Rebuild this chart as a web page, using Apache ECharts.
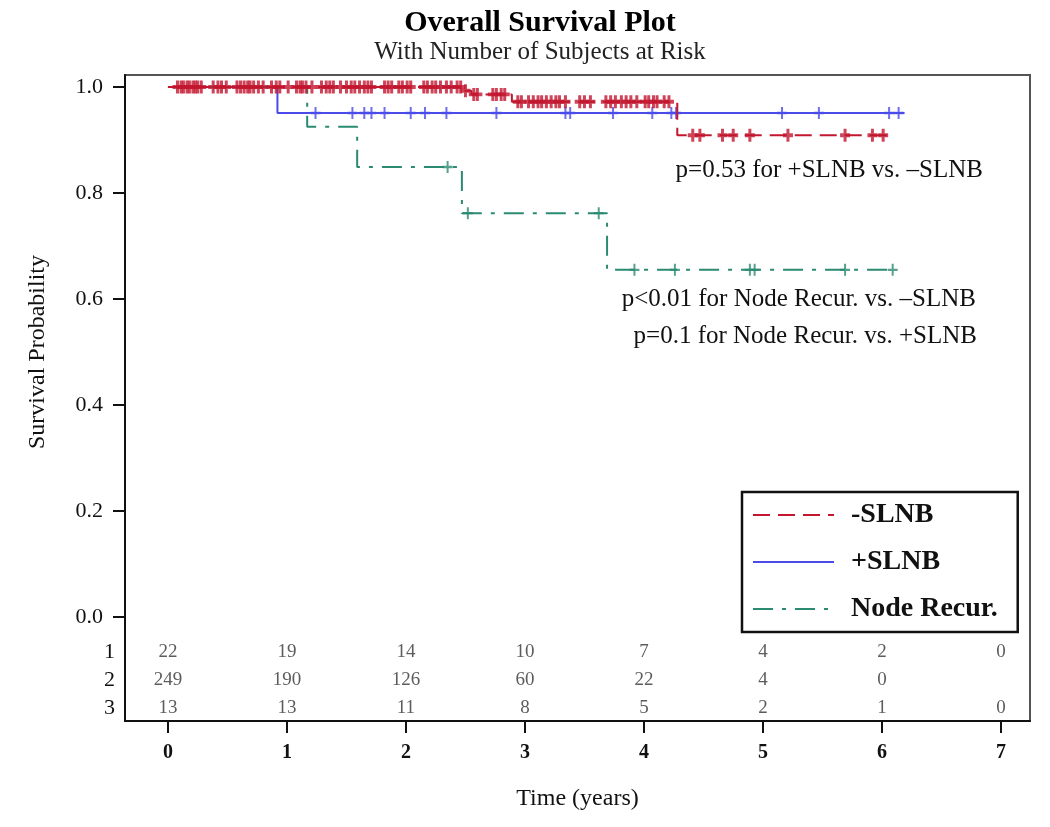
<!DOCTYPE html>
<html><head><meta charset="utf-8">
<script src="https://cdn.jsdelivr.net/npm/echarts@6/dist/echarts.min.js"></script>
<style>html,body{margin:0;padding:0;background:#fff}#c{width:1050px;height:827px}</style>
</head><body><div id="c"></div>
<script>
// ---- data ----
const years = [0, 1, 2, 3, 4, 5, 6, 7];
const yTicks = [0, 0.2, 0.4, 0.6, 0.8, 1.0];
const groupNames = ['-SLNB', '+SLNB', 'Node Recur.'];

// Kaplan-Meier step points (time in years, survival after event)
const negSLNB_t = [0, 2.47, 2.55, 2.89, 4.28, 6.04];
const negSLNB_s = [1.0, 0.993, 0.986, 0.972, 0.909, 0.909];
const posSLNB_t = [0, 0.92, 6.19];
const posSLNB_s = [1.0, 0.951, 0.951];
const nodeRec_t = [0, 1.17, 1.59, 2.47, 3.69, 6.09];
const nodeRec_s = [1.0, 0.925, 0.849, 0.762, 0.655, 0.655];

// censoring times
const negSLNB_cens = [0.08,0.11,0.13,0.16,0.18,0.21,0.23,0.25,0.28,0.38,0.42,0.45,0.49,0.58,0.61,0.64,0.67,0.69,0.72,0.76,0.80,0.87,0.91,0.94,1.01,1.08,1.11,1.13,1.16,1.21,1.29,1.33,1.36,1.39,1.45,1.50,1.54,1.57,1.61,1.65,1.68,1.71,1.82,1.85,1.88,1.94,1.97,2.01,2.04,2.15,2.18,2.22,2.25,2.29,2.34,2.38,2.43,2.46,
  2.50,2.57,2.60,2.73,2.76,2.80,2.83,
  2.94,2.97,3.03,3.07,3.11,3.14,3.18,3.22,3.26,3.29,3.34,3.46,3.50,3.55,3.68,3.72,3.76,3.81,3.85,3.89,3.94,4.01,4.04,4.08,4.11,4.17,4.21,
  4.41,4.47,4.66,4.75,4.89,5.21,5.69,5.92,6.01];
const posSLNB_cens = [1.24,1.55,1.65,1.71,1.82,2.04,2.16,2.34,2.76,3.34,3.38,3.74,4.07,4.23,4.27,5.16,5.47,6.06,6.14];
const nodeRec_cens = [2.35,2.52,3.62,3.92,4.26,4.89,4.93,5.69,6.09];

// number at risk
const riskRowLabels = ['1', '2', '3'];
const riskRow1 = [22, 19, 14, 10, 7, 4, 2, 0];
const riskRow2 = [249, 190, 126, 60, 22, 4, 0, null];
const riskRow3 = [13, 13, 11, 8, 5, 2, 1, 0];

const pNotes = ['p=0.53 for +SLNB vs. \u2013SLNB', 'p<0.01 for Node Recur. vs. \u2013SLNB', 'p=0.1 for Node Recur. vs. +SLNB'];

// ---- layout / style ----
const SERIF = '"Liberation Serif","DejaVu Serif",serif';
const ROW_Y = [-0.066, -0.119, -0.172];
const COL = { neg: '#c2172f', pos: '#4b4bea', node: '#2b8a72' };
const PLUS = 'path://M4,0 H6 V4 H10 V6 H6 V10 H4 V6 H0 V4 H4 Z';
const PLUS_B = 'path://M3.5,0 H6.5 V3.5 H10 V6.5 H6.5 V10 H3.5 V6.5 H0 V3.5 H3.5 Z';

function stepVal(ts, ss, t) {
  let v = ss[0];
  for (let i = 0; i < ts.length; i++) { if (ts[i] <= t) v = ss[i]; }
  return v;
}
function lineData(ts, ss) { return ts.map((t, i) => [t, ss[i]]); }
function censData(ts, ss, c) { return c.map(t => [t, stepVal(ts, ss, t)]); }
function riskData(row, ry) {
  const out = [];
  row.forEach((n, i) => { if (n !== null) out.push([years[i], ry, n]); });
  return out;
}

const rowLabelMap = {};
ROW_Y.forEach((v, i) => { rowLabelMap[v.toFixed(3)] = riskRowLabels[i]; });

const chart = echarts.init(document.getElementById('c'), null, { renderer: 'canvas' });
const riskSeries = [riskRow1, riskRow2, riskRow3].map((row, i) => ({
  type: 'scatter', name: 'risk' + (i + 1), data: riskData(row, ROW_Y[i]),
  symbolSize: 1, itemStyle: { color: 'transparent' }, silent: true,
  label: { show: true, position: 'inside', formatter: p => String(p.value[2]),
    fontFamily: SERIF, fontSize: 19, color: '#333' }
}));

chart.setOption({
  animation: false,
  backgroundColor: '#fff',
  title: [
    { text: 'Overall Survival Plot', left: 535, top: 3, textAlign: 'center',
      textStyle: { fontFamily: SERIF, fontWeight: 'bold', fontSize: 30, color: '#000' } },
    { text: 'With Number of Subjects at Risk', left: 535, top: 35, textAlign: 'center',
      textStyle: { fontFamily: SERIF, fontWeight: 'normal', fontSize: 25, color: '#222' } }
  ],
  grid: { left: 125, right: 20, top: 75, bottom: 106, show: true, borderColor: '#555', borderWidth: 2,
    containLabel: false, outerBoundsMode: 'none' },
  xAxis: {
    type: 'value', min: -0.361, max: 7.244,
    axisLine: { show: true, onZero: false, lineStyle: { color: '#111', width: 2 } },
    axisTick: { show: true, customValues: years, length: 12, lineStyle: { color: '#111', width: 2 } },
    axisLabel: { show: true, customValues: years, margin: 22, fontFamily: SERIF, fontWeight: 'bold', fontSize: 20, color: '#111' },
    splitLine: { show: false },
    name: 'Time (years)', nameLocation: 'middle', nameGap: 66,
    nameTextStyle: { fontFamily: SERIF, fontSize: 24, color: '#111' }
  },
  yAxis: {
    type: 'value', min: -0.196, max: 1.0226,
    axisLine: { show: true, onZero: false, lineStyle: { color: '#111', width: 2 } },
    axisTick: { show: true, customValues: yTicks, length: 12, lineStyle: { color: '#111', width: 2 } },
    axisLabel: { show: true, customValues: yTicks.concat(ROW_Y), margin: 10,
      formatter: v => {
        const k = Number(v).toFixed(3);
        if (rowLabelMap[k] !== undefined) return '{r|' + rowLabelMap[k] + '}';
        return '{t|' + Number(v).toFixed(1) + '}';
      },
      rich: {
        t: { fontFamily: SERIF, fontSize: 22, color: '#111', padding: [0, 12, 0, 0] },
        r: { fontFamily: SERIF, fontSize: 22, color: '#111' }
      }
    },
    splitLine: { show: false }
  },
  legend: {
    data: groupNames, orient: 'vertical', left: 742, top: 492,
    selectedMode: false,
    itemWidth: 81, itemHeight: 20, itemGap: 19,
    padding: [9, 20, 9, 10],
    borderColor: '#111', borderWidth: 2.5, backgroundColor: '#fff',
    itemStyle: { color: 'transparent', borderColor: 'transparent', borderWidth: 0, opacity: 0 },
    textStyle: { fontFamily: SERIF, fontWeight: 'bold', fontSize: 28, color: '#111', padding: [0, 0, 0, 12] }
  },
  graphic: [
    { type: 'text', x: 38, y: 352, rotation: Math.PI / 2,
      style: { text: 'Survival Probability', textAlign: 'center', textVerticalAlign: 'middle', font: '24px ' + SERIF, fill: '#111' } },
    { type: 'text', x: 983, y: 170, style: { text: pNotes[0], textAlign: 'right', textVerticalAlign: 'middle', font: '25px ' + SERIF, fill: '#111' } },
    { type: 'text', x: 976, y: 299, style: { text: pNotes[1], textAlign: 'right', textVerticalAlign: 'middle', font: '25px ' + SERIF, fill: '#111' } },
    { type: 'text', x: 977, y: 336, style: { text: pNotes[2], textAlign: 'right', textVerticalAlign: 'middle', font: '25px ' + SERIF, fill: '#111' } }
  ],
  series: [
    { type: 'line', name: '+SLNB', step: 'end', symbol: 'none', data: lineData(posSLNB_t, posSLNB_s),
      lineStyle: { color: COL.pos, width: 2, type: 'solid' }, itemStyle: { color: COL.pos }, z: 2 },
    { type: 'scatter', name: 'cens+', data: censData(posSLNB_t, posSLNB_s, posSLNB_cens), symbol: PLUS, symbolSize: [10, 12],
      itemStyle: { color: COL.pos }, z: 2 },
    { type: 'line', name: 'Node Recur.', step: 'end', symbol: 'none', data: lineData(nodeRec_t, nodeRec_s),
      lineStyle: { color: COL.node, width: 2, type: [20, 9, 4, 9] }, itemStyle: { color: COL.node }, z: 3 },
    { type: 'scatter', name: 'censN', data: censData(nodeRec_t, nodeRec_s, nodeRec_cens), symbol: PLUS, symbolSize: [10, 12],
      itemStyle: { color: COL.node }, z: 3 },
    { type: 'line', name: '-SLNB', step: 'end', symbol: 'none', data: lineData(negSLNB_t, negSLNB_s),
      lineStyle: { color: COL.neg, width: 2, type: [17, 8] }, itemStyle: { color: COL.neg }, z: 4 },
    { type: 'scatter', name: 'cens-', data: censData(negSLNB_t, negSLNB_s, negSLNB_cens), symbol: PLUS_B, symbolSize: [10, 13],
      itemStyle: { color: COL.neg }, z: 4 }
  ].concat(riskSeries)
});
</script>
</body></html>
